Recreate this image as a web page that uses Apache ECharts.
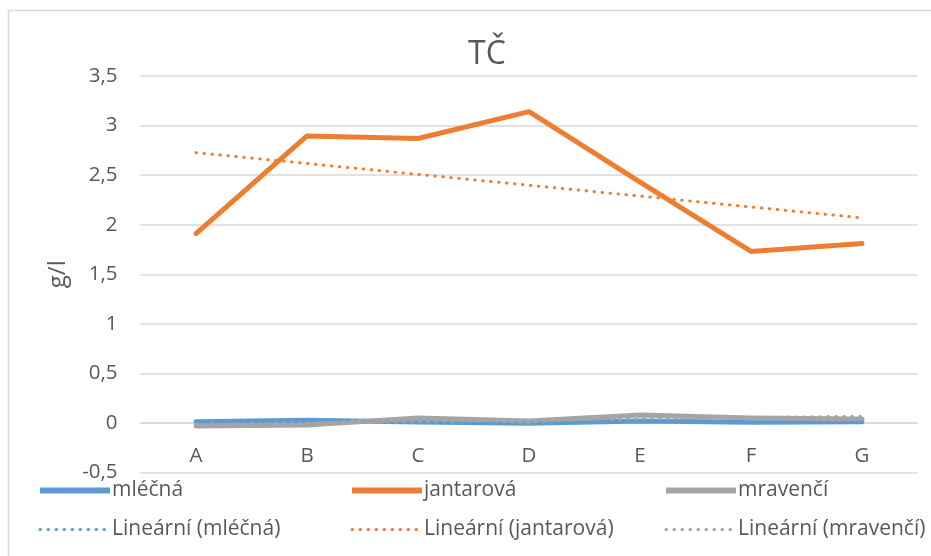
<!DOCTYPE html>
<html>
<head>
<meta charset="utf-8">
<script src="https://cdn.jsdelivr.net/npm/echarts@6/dist/echarts.min.js"></script>
<style>
  html, body { margin: 0; padding: 0; background: #fff; }
  #chart { width: 931px; height: 556px; }
</style>
</head>
<body>
<div id="chart"></div>
<script>
// Samples along the x axis
const categories = ['A', 'B', 'C', 'D', 'E', 'F', 'G'];

// Measured concentrations, g/l
const mlecna = [0.013, 0.027, 0.01, -0.003, 0.02, 0.007, 0.013];
const jantarova = [1.91, 2.895, 2.87, 3.14, 2.43, 1.73, 1.81];
const mravenci = [-0.03, -0.02, 0.05, 0.02, 0.08, 0.05, 0.04];

// Value axis ticks
const yMin = -0.5;
const yMax = 3.5;
const yStep = 0.5;

// Least-squares linear trend over the sample index (1..n)
function linearTrend(values) {
  const n = values.length;
  const xs = values.map((_, i) => i + 1);
  const mx = xs.reduce((a, b) => a + b, 0) / n;
  const my = values.reduce((a, b) => a + b, 0) / n;
  let sxy = 0, sxx = 0;
  for (let i = 0; i < n; i++) {
    sxy += (xs[i] - mx) * (values[i] - my);
    sxx += (xs[i] - mx) * (xs[i] - mx);
  }
  const k = sxy / sxx;
  return xs.map(x => my + k * (x - mx));
}

const FONT = '"Open Sans", "Noto Sans", sans-serif';
const TEXT = '#595959';
const GRID_LINE = '#D9D9D9';
const BLUE = '#5B9BD5';
const ORANGE = '#ED7D31';
const GRAY = '#A5A5A5';
const DOTS = [0.5, 7.5];

function solid(name, data, color) {
  return {
    name, type: 'line', data,
    showSymbol: false, symbol: 'none', smooth: false,
    lineStyle: { color, width: 5, cap: 'round', join: 'round' },
    itemStyle: { color },
    emphasis: { disabled: true },
    animation: false
  };
}

function trend(name, data, color) {
  return {
    name, type: 'line', data: linearTrend(data),
    showSymbol: false, symbol: 'none',
    lineStyle: { color, width: 3, type: DOTS, cap: 'round' },
    itemStyle: { color },
    emphasis: { disabled: true },
    animation: false
  };
}

// One legend column: the series on top, its trend line below
function legendColumn(left, name, trendName) {
  return {
    data: [
      { name, lineStyle: { width: 6, cap: 'butt' } },
      { name: trendName, lineStyle: { width: 3, type: DOTS, cap: 'round' } }
    ],
    orient: 'vertical',
    left, top: 480,
    padding: 0,
    itemWidth: 70, itemHeight: 16, itemGap: 18,
    selectedMode: false,
    itemStyle: { opacity: 0 },
    textStyle: { color: TEXT, fontSize: 21, fontFamily: FONT, padding: [0, 0, 0, -3] }
  };
}

const chart = echarts.init(document.getElementById('chart'), null, { renderer: 'canvas' });

chart.setOption({
  backgroundColor: '#ffffff',
  animation: false,
  title: {
    text: 'TČ',
    left: 463,
    top: 34,
    textStyle: { color: TEXT, fontSize: 32, fontWeight: 'normal', fontFamily: FONT }
  },
  graphic: [{
    type: 'rect',
    shape: { x: 8.5, y: 10.5, width: 940, height: 560 },
    style: { fill: 'none', stroke: GRID_LINE, lineWidth: 1.5 },
    silent: true, z: -10
  }],
  legend: [
    legendColumn(37, 'mléčná', 'Lineární (mléčná)'),
    legendColumn(349, 'jantarová', 'Lineární (jantarová)'),
    legendColumn(663, 'mravenčí', 'Lineární (mravenčí)')
  ],
  grid: { left: 140.5, right: 13.5, top: 76, bottom: 83.5, containLabel: false },
  xAxis: {
    type: 'category',
    data: categories,
    boundaryGap: true,
    axisLine: { onZero: true, lineStyle: { color: GRID_LINE, width: 1.5 } },
    axisTick: { show: false },
    axisLabel: { color: TEXT, fontSize: 20.5, fontFamily: FONT, margin: -27 },
    splitLine: { show: false }
  },
  yAxis: {
    type: 'value',
    min: yMin, max: yMax, interval: yStep,
    name: 'g/l',
    nameLocation: 'middle',
    nameRotate: 90,
    nameGap: 70,
    nameTextStyle: { color: TEXT, fontSize: 24, fontFamily: FONT },
    axisLine: { show: false },
    axisTick: { show: false },
    axisLabel: {
      color: TEXT, fontSize: 20.5, fontFamily: FONT, margin: 23,
      formatter: v => String(Math.round(v * 10) / 10).replace('.', ',')
    },
    splitLine: { lineStyle: { color: GRID_LINE, width: 1.5 } }
  },
  series: [
    solid('mléčná', mlecna, BLUE),
    solid('jantarová', jantarova, ORANGE),
    solid('mravenčí', mravenci, GRAY),
    trend('Lineární (mléčná)', mlecna, BLUE),
    trend('Lineární (jantarová)', jantarova, ORANGE),
    trend('Lineární (mravenčí)', mravenci, GRAY)
  ]
});
</script>
</body>
</html>
